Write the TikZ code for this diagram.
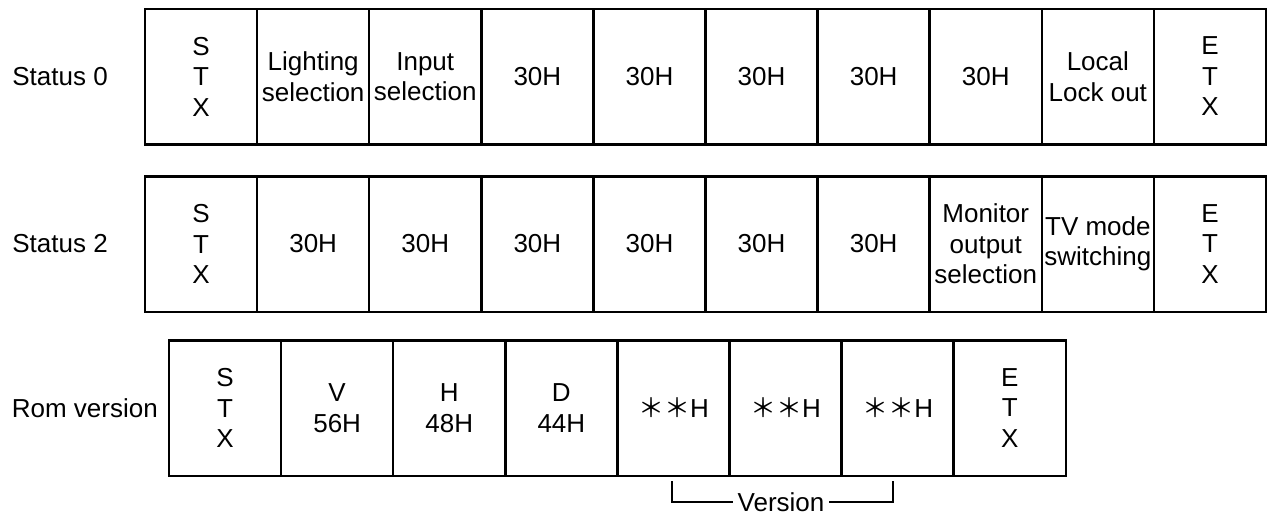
\documentclass[tikz,border=0pt]{standalone}
\usepackage{fontspec}
\setmainfont{Liberation Sans}
\newfontfamily\cjkfont{Noto Sans CJK JP}
\begin{document}
\begin{tikzpicture}[x=1pt,y=-1pt,
  cell/.style={draw, line width=2.5pt, minimum width=112.1pt, minimum height=135.5pt,
    inner sep=0pt, align=center, font=\fontsize{26}{30.5}\selectfont},
  lbl/.style={font=\fontsize{26}{30.5}\selectfont, anchor=east, inner sep=0pt},
  brk/.style={line width=2pt}]
\useasboundingbox (0,0) rectangle (1268,517);
% Row 1
\node[lbl] (l0) at (108,76.5) {Status 0};
\foreach \t [count=\i from 0] in {{S\\T\\X},{Lighting\\selection},{Input\\selection},30H,30H,30H,30H,30H,{Local\\Lock out},{E\\T\\X}}
  \node[cell] (a\i) at ({145+112.1*(\i+0.5)},76.5) {\t};
% Row 2
\node[lbl] (l2) at (108,244) {Status 2};
\foreach \t [count=\i from 0] in {{S\\T\\X},30H,30H,30H,30H,30H,30H,{Monitor\\output\\selection},{TV mode\\switching},{E\\T\\X}}
  \node[cell] (b\i) at ({145+112.1*(\i+0.5)},244) {\t};
% Row 3
\node[lbl] (l3) at (158,408) {Rom version};
\foreach \t [count=\i from 0] in {{S\\T\\X},{V\\56H},{H\\48H},{D\\44H},{{\cjkfont ＊＊}H},{{\cjkfont ＊＊}H},{{\cjkfont ＊＊}H},{E\\T\\X}}
  \node[cell] (c\i) at ({169+112.1*(\i+0.5)},408) {\t};
% Version bracket
\node[font=\fontsize{26}{30.5}\selectfont, inner sep=4pt] (ver) at (781,502) {Version};
\coordinate (vl) at (672,481);
\coordinate (vr) at (893,481);
\draw[brk] (vl) |- (ver.west);
\draw[brk] (vr) |- (ver.east);
\end{tikzpicture}
\end{document}
